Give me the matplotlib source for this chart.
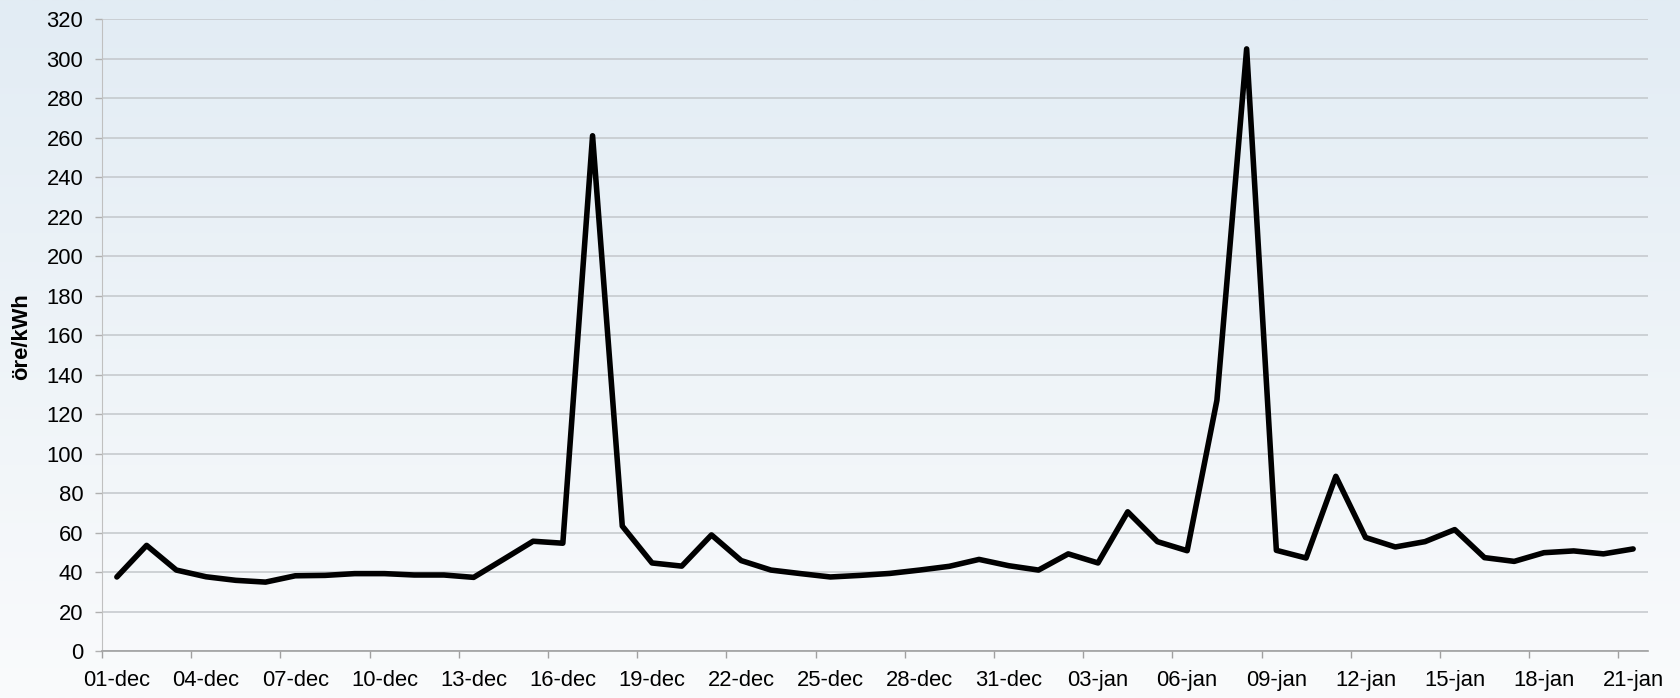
import matplotlib.pyplot as plt
import numpy as np
import pandas as pd
from matplotlib.colors import LinearSegmentedColormap

plt.rcParams['font.family'] = ['Liberation Sans', 'DejaVu Sans']

# daily spot price, 01-dec .. 21-jan
dates = pd.date_range('2010-12-01', periods=52, freq='D')
month_names = {12: 'dec', 1: 'jan'}
day_labels = [f"{d.day:02d}-{month_names[d.month]}" for d in dates]

price = [37.5, 53.5, 41.0, 37.6, 35.8, 34.9, 38.1, 38.3, 39.2, 39.2,
         38.5, 38.5, 37.3, 46.4, 55.6, 54.6, 261.0, 63.3, 44.6, 43.0,
         58.8, 45.8, 41.0, 39.2, 37.5, 38.3, 39.3, 41.0, 42.9, 46.4,
         43.2, 41.0, 49.2, 44.6, 70.5, 55.4, 50.8, 127.0, 305.0, 51.0,
         47.1, 88.5, 57.5, 52.7, 55.4, 61.5, 47.3, 45.4, 49.8, 50.7,
         49.2, 51.7]

y_ticks = np.arange(0, 321, 20)
ylabel = 'öre/kWh'

fig = plt.figure(figsize=(16.8, 6.98), dpi=100)

# background gradient
bg = fig.add_axes([0, 0, 1, 1], zorder=0)
cmap = LinearSegmentedColormap.from_list('bg', ['#fafbfc', '#e2ecf4'])
grad = np.linspace(0, 1, 256).reshape(-1, 1)
bg.imshow(grad, aspect='auto', cmap=cmap, origin='lower', extent=[0, 1, 0, 1])
bg.axis('off')

ax = fig.add_axes([102 / 1680, 1 - 651 / 698, 1546 / 1680, (651 - 19.3) / 698], zorder=1)
ax.patch.set_alpha(0)

x = np.arange(len(price))
ax.plot(x, price, color='black', lw=4.0, solid_joinstyle='round',
        solid_capstyle='round', zorder=3)

ax.set_xlim(-0.5, len(price) - 0.5)
ax.set_ylim(0, 320)
ax.set_yticks(y_ticks)
ax.yaxis.grid(True, color='#c3c7cb', lw=1.1)
ax.set_axisbelow(True)

# labels every third day, tick marks between categories
ax.set_xticks(x[::3])
ax.set_xticklabels([day_labels[i] for i in x[::3]])
ax.set_xticks(np.arange(-0.5, len(price) - 1, 3), minor=True)
ax.tick_params(axis='x', which='major', length=0, pad=14, labelsize=15.8)
ax.tick_params(axis='x', which='minor', length=5, width=1, color='#a0a0a0')
ax.tick_params(axis='y', length=5, width=1, color='#b0b0b0', pad=8.5,
               labelsize=15.8)

for side in ['top', 'right']:
    ax.spines[side].set_visible(False)
ax.spines['left'].set_color('#c0c0c0')
ax.spines['bottom'].set_color('#a0a0a0')
ax.spines['bottom'].set_linewidth(1.2)

fig.text(22 / 1680, 1 - 337 / 698, ylabel, rotation=90, ha='center',
         va='center', fontsize=15.8, fontweight='bold')

fig.savefig('out.png', dpi=100)
